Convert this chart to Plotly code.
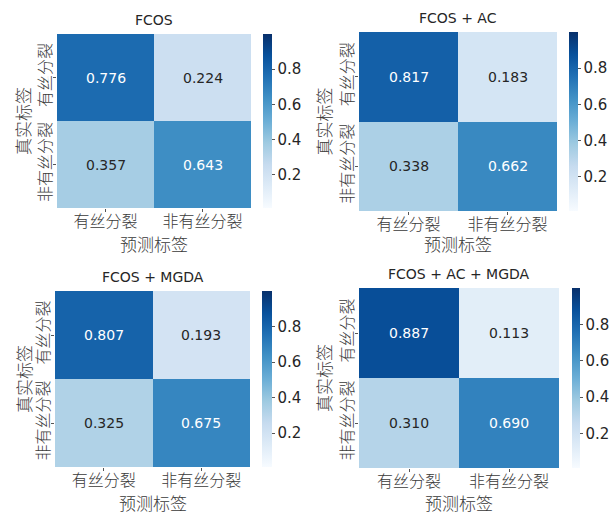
import plotly.graph_objects as go

# Normalised confusion matrices (rows: true label, columns: predicted label)
classes = ["有丝分裂", "非有丝分裂"]
titles = ["FCOS", "FCOS + AC", "FCOS + MGDA", "FCOS + AC + MGDA"]
cm_fcos = [[0.776, 0.224], [0.357, 0.643]]
cm_fcos_ac = [[0.817, 0.183], [0.338, 0.662]]
cm_fcos_mgda = [[0.807, 0.193], [0.325, 0.675]]
cm_fcos_ac_mgda = [[0.887, 0.113], [0.310, 0.690]]
matrices = [cm_fcos, cm_fcos_ac, cm_fcos_mgda, cm_fcos_ac_mgda]
cbar_ticks = [0.2, 0.4, 0.6, 0.8]
x_title = "预测标签"
y_title = "真实标签"

W, H = 612, 515

# Pixel boxes of each heatmap (left, right, top, bottom), colour bar x-range,
# title y, x-title y, y-title x
panels = [
    dict(box=(57, 251, 34, 208), cbar=(263, 272), ty=20, xty=244, ytx=23),
    dict(box=(359, 557, 32, 211), cbar=(569, 578), ty=18, xty=244, ytx=323),
    dict(box=(55, 250, 291, 467), cbar=(262, 272), ty=277, xty=502, ytx=23),
    dict(box=(359, 559, 288, 468), cbar=(572, 580), ty=274, xty=502, ytx=323),
]

blues = ["#f7fbff", "#deebf7", "#c6dbef", "#9ecae1", "#6baed6",
         "#4292c6", "#2171b5", "#08519c", "#08306b"]
colorscale = [[i / (len(blues) - 1), c] for i, c in enumerate(blues)]
zmin, zmax = 0.01, 1.0

cjk = "Noto Sans CJK SC"
latin = "DejaVu Sans"
dark = "#262626"
label_col = "#3a3a3a"

fig = go.Figure()
annotations = []


def colour_at(v):
    t = (v - zmin) / (zmax - zmin)
    t = min(max(t, 0), 1)
    pos = t * (len(blues) - 1)
    i = min(int(pos), len(blues) - 2)
    f = pos - i
    a = [int(blues[i][k:k + 2], 16) for k in (1, 3, 5)]
    b = [int(blues[i + 1][k:k + 2], 16) for k in (1, 3, 5)]
    return [a[j] + (b[j] - a[j]) * f for j in range(3)]


def luminance(rgb):
    r, g, b = (c / 255 for c in rgb)
    return 0.299 * r + 0.587 * g + 0.114 * b


for idx, (cm, title, p) in enumerate(zip(matrices, titles, panels)):
    n = idx + 1
    xa = "x" if n == 1 else f"x{n}"
    ya = "y" if n == 1 else f"y{n}"
    l, r, t, b = p["box"]
    c0, c1 = p["cbar"]
    fig.add_trace(go.Heatmap(
        z=cm, x=classes, y=classes,
        xaxis=xa, yaxis=ya,
        colorscale=colorscale, zmin=zmin, zmax=zmax,
        hoverinfo="skip",
        colorbar=dict(
            x=c0 / W, xanchor="left", xref="paper",
            y=1 - (t + b) / 2 / H, yanchor="middle", yref="paper",
            len=(b - t) / H, lenmode="fraction",
            thickness=c1 - c0, thicknessmode="pixels",
            outlinewidth=0, xpad=0, ypad=0,
            tickvals=cbar_ticks, ticktext=[f"{v:.1f}" for v in cbar_ticks],
            ticks="outside", ticklen=3, tickwidth=1, tickcolor="#555",
            tickfont=dict(family=latin, size=15, color=dark),
        ),
    ))
    xkey = "xaxis" if n == 1 else f"xaxis{n}"
    ykey = "yaxis" if n == 1 else f"yaxis{n}"
    fig.layout[xkey] = dict(
        domain=[l / W, r / W], anchor=ya,
        ticks="outside", ticklen=3, tickcolor="#555",
        ticklabelstandoff=-4,
        tickfont=dict(family=cjk, size=16, color=label_col, weight=300),
        showgrid=False, zeroline=False, showline=False,
    )
    fig.layout[ykey] = dict(
        domain=[1 - b / H, 1 - t / H], anchor=xa,
        autorange="reversed", tickangle=-90,
        ticks="outside", ticklen=3, tickcolor="#555",
        ticklabelstandoff=-4,
        tickfont=dict(family=cjk, size=16, color=label_col, weight=300),
        showgrid=False, zeroline=False, showline=False,
    )
    # panel title
    annotations.append(dict(
        text=title, xref="paper", yref="paper",
        x=(l + r) / 2 / W, y=1 - p["ty"] / H,
        xanchor="center", yanchor="middle", showarrow=False,
        font=dict(family=latin, size=14, color=dark),
    ))
    # axis titles
    annotations.append(dict(
        text=x_title, xref="paper", yref="paper",
        x=(l + r) / 2 / W, y=1 - p["xty"] / H,
        xanchor="center", yanchor="middle", showarrow=False,
        font=dict(family=cjk, size=17, color=label_col, weight=300),
    ))
    annotations.append(dict(
        text=y_title, xref="paper", yref="paper", textangle=-90,
        x=p["ytx"] / W, y=1 - (t + b) / 2 / H,
        xanchor="center", yanchor="middle", showarrow=False,
        font=dict(family=cjk, size=17, color=label_col, weight=300),
    ))
    # cell values
    for i, row in enumerate(cm):
        for j, v in enumerate(row):
            txt_col = "#ffffff" if luminance(colour_at(v)) < 0.5 else dark
            annotations.append(dict(
                text=f"{v:.3f}", x=classes[j], y=classes[i],
                xref=xa, yref=ya, showarrow=False,
                font=dict(family=latin, size=14, color=txt_col),
            ))

fig.update_layout(
    width=W, height=H,
    margin=dict(l=0, r=0, t=0, b=0),
    paper_bgcolor="white", plot_bgcolor="white",
    annotations=annotations,
    showlegend=False,
)

fig.write_html("out.html")
